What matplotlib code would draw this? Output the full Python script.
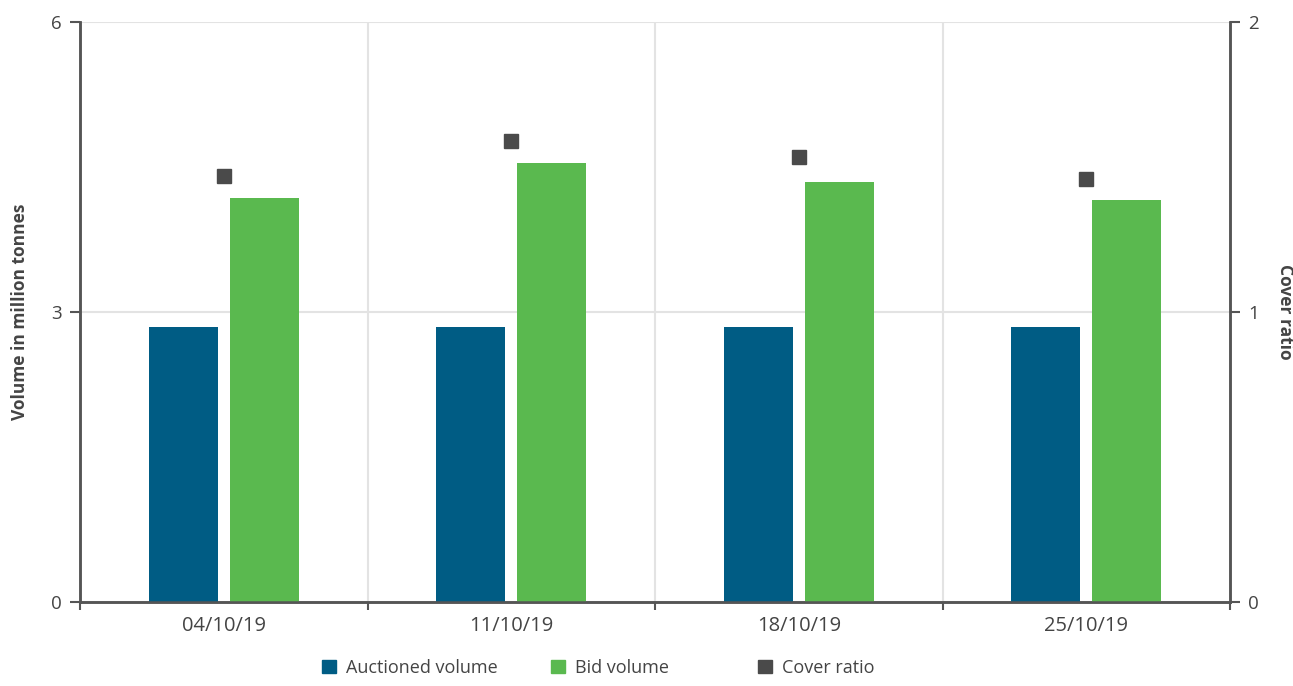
import numpy as np
import matplotlib.pyplot as plt
from matplotlib.patches import Patch

plt.rcParams['font.family'] = ['Open Sans', 'DejaVu Sans']

# data
dates = ['04/10/19', '11/10/19', '18/10/19', '25/10/19']
auctioned = [2.85, 2.85, 2.85, 2.85]
bid = [4.18, 4.54, 4.35, 4.16]
cover = [1.47, 1.59, 1.535, 1.46]

blue = '#005c84'
green = '#5ab94f'
dark = '#4a4a4a'
axcol = '#555555'
txt = '#444444'

fig = plt.figure(figsize=(12.93, 6.86), dpi=100)
ax = fig.add_axes([80/1293, 84/686, 1150/1293, 580/686])
ax2 = ax.twinx()

x = np.arange(len(dates))
w = 0.24
ax.bar(x - 0.141, auctioned, w, color=blue, zorder=3)
ax.bar(x + 0.141, bid, w, color=green, zorder=3)
ax2.plot(x, cover, 's', color=dark, markersize=10.5, zorder=4)

ax.set_xlim(-0.5, 3.5)
ax.set_ylim(0, 6)
ax2.set_ylim(0, 2)
ax.set_yticks([0, 3, 6])
ax2.set_yticks([0, 1, 2])

# boundaries between dates carry the ticks and the vertical grid
ax.set_xticks(np.arange(-0.5, 4, 1))
ax.set_xticklabels([])
ax.set_xticks(x, minor=True)
ax.set_xticklabels(dates, minor=True)
ax.tick_params(axis='x', which='minor', length=0, pad=10, labelsize=14.5, labelcolor=txt)
ax.tick_params(axis='x', which='major', length=6, width=1.5, color=axcol, direction='out')
ax.tick_params(axis='y', length=7, width=1.5, color=axcol, labelsize=13.5, labelcolor=txt, pad=6)
ax2.tick_params(axis='y', length=7, width=1.5, color=axcol, labelsize=13.5, labelcolor=txt, pad=6)

for a in (ax, ax2):
    a.spines['top'].set_visible(False)
    for s in ('left', 'right', 'bottom'):
        a.spines[s].set_color(axcol)
        a.spines[s].set_linewidth(1.8)

ax.grid(axis='y', color='#e3e3e3', linewidth=1.5, zorder=0)
for b in [0.5, 1.5, 2.5]:
    ax.axvline(b, color='#e3e3e3', linewidth=1.5, zorder=0)

ax.set_ylabel('Volume in million tonnes', fontsize=12.5, fontweight='bold', color=txt, labelpad=16)
ax2.set_ylabel('Cover ratio', fontsize=12.5, fontweight='bold', color=txt, rotation=270, labelpad=25)

# legend entries sit at fixed, uneven positions in the reference
labels = ['Auctioned volume', 'Bid volume', 'Cover ratio']
colors = [blue, green, dark]
lefts = [322, 551, 758]
for lab, col, left in zip(labels, colors, lefts):
    fig.legend([Patch(color=col)], [lab], loc='center left',
               bbox_to_anchor=(left/1293, 1 - 668/686), frameon=False,
               fontsize=13, handlelength=0.75, handleheight=0.75,
               handletextpad=0.6, borderpad=0, borderaxespad=0,
               labelcolor=txt)

fig.savefig('out.png', dpi=100)
